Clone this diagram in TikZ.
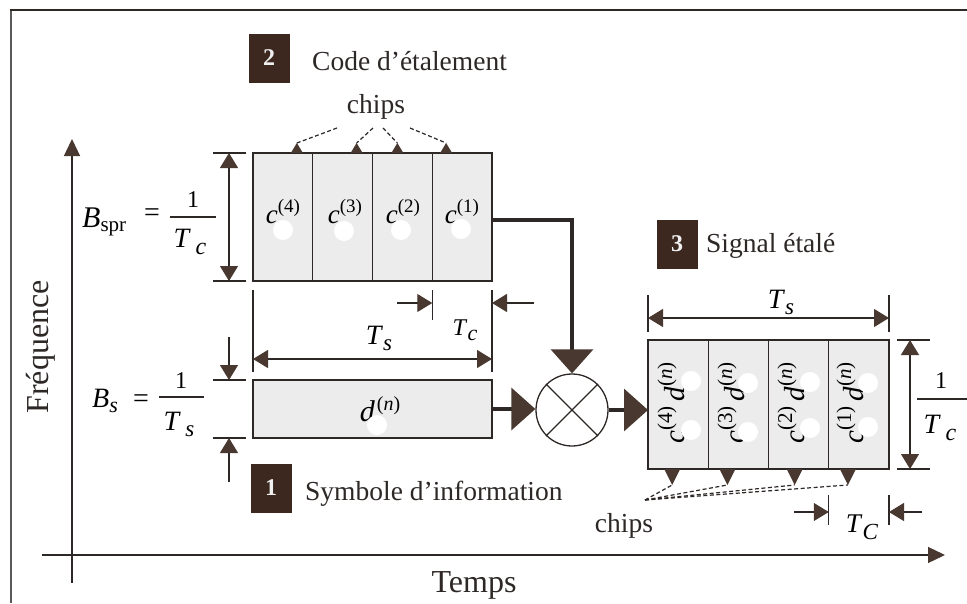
\documentclass[tikz,border=0pt]{standalone}
\usepackage{fontspec}
\setmainfont{Liberation Serif}
\usetikzlibrary{arrows.meta,calc}
\definecolor{ink}{RGB}{45,40,38}
\definecolor{tipc}{RGB}{72,56,48}
\definecolor{badgec}{RGB}{60,40,30}
\definecolor{cellfill}{RGB}{236,236,236}
\definecolor{framec}{RGB}{90,90,90}
\newcommand\fsz[1]{\fontsize{#1}{#1}\selectfont}
% small filled triangle sitting on a box edge, with a dashed leader ending at its apex
\newcommand\chipmark[4]{%
  \fill[tipc] ($(#1)+(-#3,0)$) -- ($(#1)+(#3,0)$) -- ($(#1)+(0,#4)$) -- cycle;
  \draw[chipline] (#2) -- ($(#1)+(0,#4)$);}
\begin{document}
\begin{tikzpicture}[x=1pt,y=-1pt,
  cell/.style={draw=ink, line width=1.4pt, fill=cellfill, minimum width=59.75pt,
    minimum height=128pt, inner sep=0pt, outer sep=0pt},
  scell/.style={cell, minimum width=60.25pt, minimum height=129pt},
  dbox/.style={cell, minimum width=239pt, minimum height=58pt},
  lbl/.style={inner sep=0pt, font=\fsz{27}},
  title/.style={inner sep=0pt, font=\fsz{27.5}, text=ink},
  axislbl/.style={inner sep=0pt, font=\fsz{32}, text=ink},
  badge/.style={fill=badgec, text=white!88!gray, font=\fsz{24}\bfseries,
    minimum width=41pt, minimum height=49pt, inner sep=0pt},
  dim/.style={draw=ink, line width=1.2pt},
  dimend/.style={dim, -{Triangle[length=15pt,width=18pt,color=tipc]}},
  dimboth/.style={dim, {Triangle[length=15pt,width=18pt,color=tipc]}-{Triangle[length=15pt,width=18pt,color=tipc]}},
  bigarr/.style={draw=ink, line width=3.5pt, -{Triangle[length=24pt,width=42pt,color=tipc]}},
  axis/.style={draw=ink, line width=1.3pt, -{Triangle[length=17pt,width=16pt,color=tipc]}},
  chipline/.style={draw=ink, line width=1.2pt, dashed, dash pattern=on 4pt off 2.5pt},
  dot/.style={fill=white}]
\useasboundingbox (0,0) rectangle (967,603);

% page frame
\draw[framec, line width=1.8pt] (11,603) -- (11,10);
\draw[ink, line width=2.2pt] (10,10) -- (967,10);

% axes
\coordinate (xo) at (42,555); \coordinate (xe) at (945,555);
\coordinate (yo) at (72,583); \coordinate (ye) at (72,139);
\draw[axis] (xo) -- (xe);
\draw[axis] (yo) -- (ye);
\node[axislbl, rotate=90, anchor=base] (freq) at (48,347) {Fréquence};
\node[axislbl, anchor=base] (temps) at (474,592) {Temps};

% 2: spreading code
\node[badge] (b2) at (269,58) {2};
\node[title, anchor=base west] (t2) at (312,70) {Code d’étalement};
\node[title, anchor=base] (chipsT) at (376,113) {chips};
\node[cell] (c4) at (282.875,217) {};
\node[cell] (c3) at (342.625,217) {};
\node[cell] (c2) at (402.375,217) {};
\node[cell] (c1) at (462.125,217) {};
\node[lbl] (lc4) at (283,212) {\textit{c}\raisebox{11pt}{\fsz{19}(4)}};
\node[lbl] (lc3) at (345,212) {\textit{c}\raisebox{11pt}{\fsz{19}(3)}};
\node[lbl] (lc2) at (403,212) {\textit{c}\raisebox{11pt}{\fsz{19}(2)}};
\node[lbl] (lc1) at (462,212) {\textit{c}\raisebox{11pt}{\fsz{19}(1)}};
\foreach \p in {(283,230),(344,231),(401,230),(461,229)} \fill[dot] \p circle (10);

\coordinate (ch1) at (337,128); \coordinate (ch2) at (373,128);
\coordinate (ch3) at (383,128); \coordinate (ch4) at (410,128);
\chipmark{$(c4.north)+(14,0)$}{ch1}{6}{-10}
\chipmark{$(c3.north)+(14,0)$}{ch2}{6}{-10}
\chipmark{$(c2.north)+(-5,0)$}{ch3}{6}{-10}
\chipmark{$(c1.north)+(-16,0)$}{ch4}{6}{-10}

% bandwidth of the code
\draw[dim] ([xshift=-40pt]c4.north west) -- ([xshift=-7pt]c4.north west);
\draw[dim] ([xshift=-40pt]c4.south west) -- ([xshift=-7pt]c4.south west);
\draw[dimboth] ([xshift=-24pt]c4.north west) -- ([xshift=-24pt]c4.south west);
\node[lbl, anchor=base west, font=\fsz{30}] (bspr) at (82,227) {\textit{B}\raisebox{-4pt}{\fsz{21}spr}};
\node[lbl, font=\fsz{28}] (eq1) at (152,215) {=};
\node[lbl, font=\fsz{24}] (one1) at (193,200) {1};
\draw[dim] (170,217) -- (216,217);
\node[lbl, font=\fsz{28}] (tc1) at (190,242) {\textit{T}\,\raisebox{-7pt}{\fsz{24}\textit{c}}};

% durations below the code
\draw[dim] ([yshift=-9pt]c4.south west) -- ([yshift=-91pt]c4.south west);
\draw[dim] ([yshift=-9pt]c1.south east) -- ([yshift=-91pt]c1.south east);
\draw[dim] ([yshift=-9pt]c1.south west) -- ([yshift=-39pt]c1.south west);
\draw[dimboth] ([yshift=-78pt]c4.south west) -- ([yshift=-78pt]c1.south east);
\draw[dimend] ([xshift=-35pt,yshift=-22pt]c1.south west) -- ([yshift=-22pt]c1.south west);
\draw[dimend] ([xshift=42pt,yshift=-22pt]c1.south east) -- ([yshift=-22pt]c1.south east);
\node[lbl, font=\fsz{28}] (ts1) at (379,338) {\textit{T}\raisebox{-6pt}{\fsz{23}\textit{s}}};
\node[lbl, font=\fsz{24}] (tcc) at (465,330) {\textit{T}\raisebox{-5pt}{\fsz{22}\textit{c}}};

% 1: information symbol
\node[dbox] (d) at (372.5,409) {};
\node[lbl, font=\fsz{30}] (ld) at (380,409) {\textit{d}\hspace{2pt}\raisebox{11pt}{\fsz{20}(\textit{n})}};
\fill[dot] (377,425) circle (10);
\draw[dim] ([xshift=-40pt]d.north west) -- ([xshift=-7pt]d.north west);
\draw[dim] ([xshift=-40pt]d.south west) -- ([xshift=-7pt]d.south west);
\draw[dimend] ([xshift=-24pt,yshift=43pt]d.north west) -- ([xshift=-24pt]d.north west);
\draw[dimend] ([xshift=-24pt,yshift=-44pt]d.south west) -- ([xshift=-24pt]d.south west);
\node[lbl, anchor=base west, font=\fsz{28}] (bs) at (92,407) {\textit{B}\raisebox{-5pt}{\fsz{22}\textit{s}}};
\node[lbl, font=\fsz{28}] (eq2) at (141,401) {=};
\node[lbl, font=\fsz{24}] (one2) at (181,381) {1};
\draw[dim] (159,397) -- (204,397);
\node[lbl, font=\fsz{28}] (ts2) at (179,424) {\textit{T}\,\raisebox{-6pt}{\fsz{23}\textit{s}}};
\node[badge] (b1) at (271,488) {1};
\node[title, anchor=base west] (t1) at (305,500) {Symbole d’information};

% multiplier
\node[circle, draw=ink, line width=1.3pt, minimum size=72pt, inner sep=0pt] (m) at (572,410) {};
\draw[ink, line width=1.2pt] (m.45) -- (m.225) (m.135) -- (m.315);

% 3: spread signal
\node[badge] (b3) at (677,244) {3};
\node[title, anchor=base west] (t3) at (706,252) {Signal étalé};
\node[scell] (s4) at (678.125,404.5) {};
\node[scell] (s3) at (738.375,404.5) {};
\node[scell] (s2) at (798.625,404.5) {};
\node[scell] (s1) at (858.875,404.5) {};
\tikzset{slbl/.style={lbl, rotate=90, font=\fsz{29}}}
\node[slbl] (ls4) at (671,403) {\textit{c}\raisebox{12pt}{\fsz{21}(4)}\,\textit{d}\raisebox{12pt}{\fsz{21}(\textit{n})}};
\node[slbl] (ls3) at (731,403) {\textit{c}\raisebox{12pt}{\fsz{21}(3)}\,\textit{d}\raisebox{12pt}{\fsz{21}(\textit{n})}};
\node[slbl] (ls2) at (791,403) {\textit{c}\raisebox{12pt}{\fsz{21}(2)}\,\textit{d}\raisebox{12pt}{\fsz{21}(\textit{n})}};
\node[slbl] (ls1) at (850,403) {\textit{c}\raisebox{12pt}{\fsz{21}(1)}\,\textit{d}\raisebox{12pt}{\fsz{21}(\textit{n})}};
\foreach \p in {(691,381),(691,430),(748,383),(748,432),(810,382),(810,428),(868,383),(868,427)}
  \fill[dot] \p circle (10);

\draw[dim] ([yshift=45pt]s4.north west) -- ([yshift=8pt]s4.north west);
\draw[dim] ([yshift=45pt]s1.north east) -- ([yshift=8pt]s1.north east);
\draw[dimboth] ([yshift=22pt]s4.north west) -- ([yshift=22pt]s1.north east);
\node[lbl, font=\fsz{28}] (ts3) at (781,302) {\textit{T}\raisebox{-6pt}{\fsz{23}\textit{s}}};

\draw[dim] ([xshift=8pt]s1.north east) -- ([xshift=41pt]s1.north east);
\draw[dim] ([xshift=8pt]s1.south east) -- ([xshift=41pt]s1.south east);
\draw[dimboth] ([xshift=21pt]s1.north east) -- ([xshift=21pt]s1.south east);
\node[lbl, font=\fsz{24}] (one3) at (941,381) {1};
\draw[dim] (917,399) -- (967,399);
\node[lbl, font=\fsz{28}] (tc3) at (940,428) {\textit{T}\,\raisebox{-7pt}{\fsz{24}\textit{c}}};

\draw[dim] ([yshift=-26pt]s1.south west) -- ([yshift=-56pt]s1.south west);
\draw[dim] ([yshift=-26pt]s1.south east) -- ([yshift=-56pt]s1.south east);
\draw[dimend] ([xshift=-35pt,yshift=-43pt]s1.south west) -- ([yshift=-43pt]s1.south west);
\draw[dimend] ([xshift=33pt,yshift=-43pt]s1.south east) -- ([yshift=-43pt]s1.south east);
\node[lbl, font=\fsz{27}] (tc4) at (862,527) {\textit{T}\raisebox{-7pt}{\fsz{23}\textit{C}}};

\node[title, anchor=base] (chipsB) at (624,532) {chips};
\coordinate (cb) at (645,500);
\chipmark{$(s4.south)+(-6,0)$}{cb}{8}{16}
\chipmark{$(s3.south)+(-11,0)$}{cb}{8}{16}
\chipmark{$(s2.south)+(-4,0)$}{cb}{8}{16}
\chipmark{$(s1.south)+(-11,0)$}{cb}{8}{16}

% signal flow
\draw[bigarr] ([yshift=-3pt]c1.east) -| (m.north);
\draw[bigarr] (d.east) -- (d.east -| m.west);
\draw[bigarr] (m.east) -- (m.east -| s4.west);
\end{tikzpicture}
\end{document}
